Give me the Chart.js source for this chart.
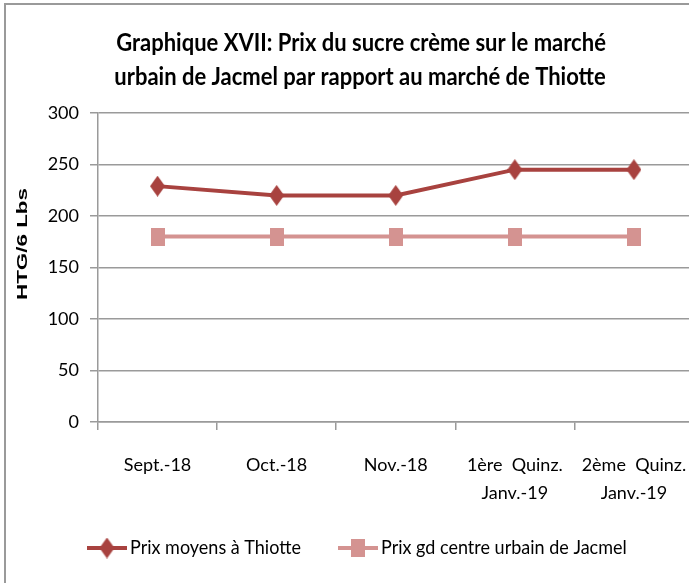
<!DOCTYPE html>
<html>
<head>
<meta charset="utf-8">
<script src="https://cdn.jsdelivr.net/npm/chart.js@4"></script>
<style>
  html, body { margin: 0; padding: 0; background: #fff; overflow: hidden; }
  #frame { position: absolute; left: 4px; top: 3px; width: 800px; height: 700px;
           border-left: 2px solid #9a9a9a; border-top: 2px solid #9a9a9a; }
  #wrap { position: absolute; left: 0; top: 0; width: 708px; height: 583px; }
</style>
</head>
<body>
<div id="frame"></div>
<div id="wrap"><canvas id="chart" width="708" height="583"></canvas></div>
<script>
// données du graphique
const categories = ["Sept.-18", "Oct.-18", "Nov.-18", ["1ère  Quinz.", "Janv.-19"], ["2ème  Quinz.", "Janv.-19"]];
const prixThiotte = [229, 220, 220, 245, 245];
const prixJacmel = [180, 180, 180, 180, 180];
const yMin = 0, yMax = 300, yStep = 50;
const titleLines = ["Graphique XVII: Prix du sucre crème sur le marché",
                    "urbain de Jacmel par rapport au marché de Thiotte"];
const yTitle = "HTG/6 Lbs";
const seriesNames = ["Prix moyens à Thiotte", "Prix gd centre urbain de Jacmel"];

const dark = "#A8423F";
const pink = "#D49391";
const face = "Lato, 'Liberation Sans', sans-serif";

// marqueurs dessinés sur un petit canvas
function makeMarker(kind, w, h, color) {
  const c = document.createElement("canvas");
  c.width = w; c.height = h;
  const g = c.getContext("2d");
  g.fillStyle = color;
  g.beginPath();
  if (kind === "diamond") {
    g.moveTo(w / 2, 0); g.lineTo(w, h / 2); g.lineTo(w / 2, h); g.lineTo(0, h / 2);
  } else {
    g.rect(0, 0, w, h);
  }
  g.closePath();
  g.fill();
  return c;
}
const diamond = makeMarker("diamond", 15, 21, dark);
const square = makeMarker("square", 14, 18, pink);

// texte étiré verticalement (le modèle est un peu écrasé en largeur)
function stretchText(ctx, text, x, y, sy) {
  ctx.save();
  ctx.translate(x, y);
  ctx.scale(1, sy);
  ctx.fillText(text, 0, 0);
  ctx.restore();
}

// titre, titre de l'axe y et légende
const decor = {
  id: "decor",
  afterDraw(chart) {
    const ctx = chart.ctx;
    ctx.save();
    ctx.fillStyle = "#000";
    ctx.textAlign = "center";
    ctx.textBaseline = "middle";
    ctx.font = "bold 22px " + face;
    stretchText(ctx, titleLines[0], 361, 43, 1.15);
    stretchText(ctx, titleLines[1], 360, 77, 1.15);

    ctx.save();
    ctx.translate(23, 244);
    ctx.rotate(-Math.PI / 2);
    ctx.scale(1.6, 1);
    ctx.font = "bold 14px 'Liberation Sans', sans-serif";
    ctx.fillText(yTitle, 0, 0);
    ctx.restore();

    const items = [
      { x: 87, color: dark, img: diamond, name: seriesNames[0] },
      { x: 338, color: pink, img: square, name: seriesNames[1] },
    ];
    const ly = 548;
    ctx.font = "18px " + face;
    ctx.textAlign = "left";
    items.forEach((it) => {
      ctx.strokeStyle = it.color;
      ctx.lineWidth = 4;
      ctx.beginPath();
      ctx.moveTo(it.x, ly);
      ctx.lineTo(it.x + 40, ly);
      ctx.stroke();
      ctx.drawImage(it.img, it.x + 20 - it.img.width / 2, ly - it.img.height / 2);
      stretchText(ctx, it.name, it.x + 43, ly, 1.1);
    });
    ctx.restore();
  },
};

new Chart(document.getElementById("chart"), {
  type: "line",
  data: {
    labels: categories,
    datasets: [
      {
        label: seriesNames[0],
        data: prixThiotte,
        borderColor: dark,
        backgroundColor: dark,
        borderWidth: 4,
        pointStyle: diamond,
        tension: 0,
      },
      {
        label: seriesNames[1],
        data: prixJacmel,
        borderColor: pink,
        backgroundColor: pink,
        borderWidth: 4,
        pointStyle: square,
        tension: 0,
      },
    ],
  },
  options: {
    responsive: false,
    animation: false,
    layout: { padding: { left: 5, right: 7, top: 113, bottom: 61 } },
    plugins: {
      legend: { display: false },
      title: { display: false },
      tooltip: { enabled: false },
    },
    scales: {
      x: {
        offset: true,
        grid: { offset: true, drawOnChartArea: false, drawTicks: true, tickLength: 8, color: "#9a9a9a", lineWidth: 1.5 },
        border: { color: "#9a9a9a", width: 1.5 },
        ticks: { color: "#000", font: { family: face, size: 18, lineHeight: 1.55 }, padding: 21, maxRotation: 0, autoSkip: false },
        afterFit: (s) => { s.height = 100; },
      },
      y: {
        min: yMin,
        max: yMax,
        grid: { color: "#9a9a9a", lineWidth: 1.5, tickLength: 8 },
        border: { color: "#9a9a9a", width: 1.5 },
        ticks: { stepSize: yStep, color: "#000", font: { family: face, size: 18 }, padding: 11 },
        afterFit: (s) => { s.width = 93; },
      },
    },
  },
  plugins: [decor],
});
</script>
</body>
</html>
